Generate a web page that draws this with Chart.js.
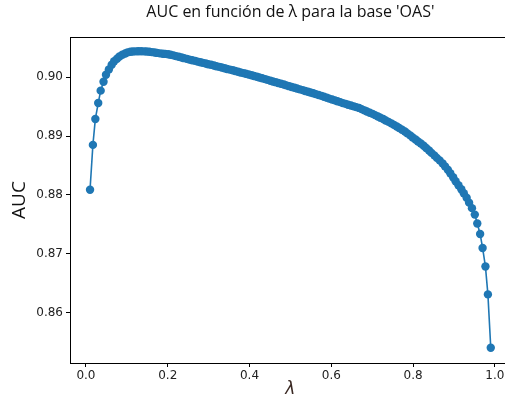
<!DOCTYPE html>
<html>
<head>
<meta charset="utf-8">
<script src="https://cdn.jsdelivr.net/npm/chart.js@4/dist/chart.umd.min.js"></script>
<style>
  html, body { margin: 0; padding: 0; background: #fff; overflow: hidden; }
  #aucChart { display: block; }
</style>
</head>
<body>
<canvas id="aucChart" width="515" height="398"></canvas>
<script>
// lambda grid (150 values between 0.01 and 0.99)
const lambdas = [
  0.010, 0.017, 0.023, 0.030, 0.036, 0.043, 0.049, 0.056, 0.063, 0.069,
  0.076, 0.082, 0.089, 0.096, 0.102, 0.109, 0.115, 0.122, 0.128, 0.135,
  0.142, 0.148, 0.155, 0.161, 0.168, 0.174, 0.181, 0.188, 0.194, 0.201,
  0.207, 0.214, 0.220, 0.227, 0.234, 0.240, 0.247, 0.253, 0.260, 0.267,
  0.273, 0.280, 0.286, 0.293, 0.299, 0.306, 0.313, 0.319, 0.326, 0.332,
  0.339, 0.345, 0.352, 0.359, 0.365, 0.372, 0.378, 0.385, 0.391, 0.398,
  0.405, 0.411, 0.418, 0.424, 0.431, 0.438, 0.444, 0.451, 0.457, 0.464,
  0.470, 0.477, 0.484, 0.490, 0.497, 0.503, 0.510, 0.516, 0.523, 0.530,
  0.536, 0.543, 0.549, 0.556, 0.562, 0.569, 0.576, 0.582, 0.589, 0.595,
  0.602, 0.609, 0.615, 0.622, 0.628, 0.635, 0.641, 0.648, 0.655, 0.661,
  0.668, 0.674, 0.681, 0.687, 0.694, 0.701, 0.707, 0.714, 0.720, 0.727,
  0.733, 0.740, 0.747, 0.753, 0.760, 0.766, 0.773, 0.780, 0.786, 0.793,
  0.799, 0.806, 0.812, 0.819, 0.826, 0.832, 0.839, 0.845, 0.852, 0.858,
  0.865, 0.872, 0.878, 0.885, 0.891, 0.898, 0.904, 0.911, 0.918, 0.924,
  0.931, 0.937, 0.944, 0.951, 0.957, 0.964, 0.970, 0.977, 0.983, 0.990
];

// AUC, one per lambda
const aucValues = [
  0.8809, 0.8885, 0.8929, 0.8956, 0.8977, 0.8992, 0.9004, 0.9013, 0.9021, 0.9027,
  0.9031, 0.9035, 0.9038, 0.9040, 0.9042, 0.9043, 0.90434, 0.90437, 0.90439, 0.90439,
  0.90437, 0.90434, 0.90429, 0.90424, 0.90417, 0.90410, 0.90403, 0.90397, 0.90393, 0.90387,
  0.90378, 0.90368, 0.90356, 0.90344, 0.90332, 0.90321, 0.90309, 0.90297, 0.90285, 0.90275,
  0.90263, 0.90251, 0.90241, 0.90230, 0.90219, 0.90208, 0.90196, 0.90184, 0.90174, 0.90162,
  0.90150, 0.90138, 0.90127, 0.90115, 0.90103, 0.90091, 0.90079, 0.90068, 0.90056, 0.90044,
  0.90030, 0.90019, 0.90005, 0.89993, 0.89980, 0.89966, 0.89953, 0.89939, 0.89926, 0.89914,
  0.89900, 0.89887, 0.89873, 0.89860, 0.89846, 0.89833, 0.89819, 0.89806, 0.89792, 0.89779,
  0.89765, 0.89752, 0.89738, 0.89725, 0.89711, 0.89696, 0.89681, 0.89666, 0.89651, 0.89635,
  0.89620, 0.89605, 0.89590, 0.89575, 0.89559, 0.89546, 0.89532, 0.89519, 0.89504, 0.89490,
  0.89477, 0.89457, 0.89436, 0.89416, 0.89396, 0.89376, 0.89355, 0.89333, 0.89311, 0.89288,
  0.89264, 0.89240, 0.89215, 0.89190, 0.89163, 0.89136, 0.89107, 0.89077, 0.89045, 0.89011,
  0.88976, 0.88942, 0.88908, 0.88874, 0.88835, 0.88797, 0.88756, 0.88714, 0.88672, 0.88630,
  0.88587, 0.88537, 0.88486, 0.88427, 0.88368, 0.88300, 0.88233, 0.88165, 0.88098, 0.88030,
  0.87954, 0.87870, 0.87777, 0.87667, 0.87516, 0.87338, 0.87102, 0.86786, 0.86314, 0.85409
];

const xTicks = [0.0, 0.2, 0.4, 0.6, 0.8, 1.0];
const yTicks = [0.86, 0.87, 0.88, 0.89, 0.90];

const BLUE = '#1f77b4';
const TICK_FONT = { family: "'DejaVu Sans', sans-serif", size: 12 };

// draws the full axes frame (top/right spines)
const frame = {
    id: 'frame',
    afterDatasetsDraw(chart) {
        const { ctx, chartArea: a } = chart;
        ctx.save();
        ctx.strokeStyle = '#000';
        ctx.lineWidth = 1;
        ctx.strokeRect(Math.round(a.left) + 0.5, Math.round(a.top) + 0.5,
            Math.round(a.right - a.left), Math.round(a.bottom - a.top));
        ctx.restore();
    }
};

new Chart(document.getElementById('aucChart'), {
    type: 'line',
    data: {
        datasets: [{
            data: lambdas.map((l, i) => ({ x: l, y: aucValues[i] })),
            borderColor: BLUE,
            borderWidth: 1.6,
            backgroundColor: BLUE,
            pointBackgroundColor: BLUE,
            pointBorderWidth: 0,
            pointRadius: 4.2,
            tension: 0,
            fill: false
        }]
    },
    options: {
        responsive: false,
        animation: false,
        layout: { padding: 0 },
        plugins: {
            legend: { display: false },
            tooltip: { enabled: false },
            title: {
                display: true,
                fullSize: false,
                text: "AUC en función de λ para la base 'OAS'",
                color: '#111',
                font: { family: "'Open Sans', sans-serif", size: 16, weight: 'normal', lineHeight: 1.2 },
                padding: { top: 3, bottom: 14.8 }
            }
        },
        scales: {
            x: {
                type: 'linear',
                min: -0.039,
                max: 1.039,
                afterBuildTicks: axis => { axis.ticks = xTicks.map(v => ({ value: v })); },
                afterFit: axis => {
                    axis.height = 35;
                    axis.paddingLeft = 0;
                    axis.paddingRight = 0;
                },
                grid: { display: true, drawOnChartArea: false, tickLength: 4, color: '#000' },
                border: { display: true, color: '#000' },
                ticks: {
                    color: '#222',
                    font: TICK_FONT,
                    padding: 2,
                    maxRotation: 0,
                    callback: v => v.toFixed(1)
                },
                title: {
                    display: true,
                    text: 'λ',
                    color: '#3b2a24',
                    font: { family: "'DejaVu Sans', sans-serif", size: 17, style: 'italic', lineHeight: 1 },
                    padding: { top: 0, bottom: 0 }
                }
            },
            y: {
                type: 'linear',
                min: 0.8515,
                max: 0.9068,
                afterBuildTicks: axis => { axis.ticks = yTicks.map(v => ({ value: v })); },
                afterFit: axis => {
                    axis.width = 70;
                    axis.paddingTop = 0;
                    axis.paddingBottom = 0;
                },
                grid: { display: true, drawOnChartArea: false, tickLength: 4, color: '#000' },
                border: { display: true, color: '#000' },
                ticks: {
                    color: '#222',
                    font: TICK_FONT,
                    padding: 3,
                    callback: v => v.toFixed(2)
                },
                title: {
                    display: true,
                    text: 'AUC',
                    color: '#111',
                    font: { family: "'Open Sans', sans-serif", size: 19, lineHeight: 1 },
                    padding: { top: 10, bottom: 0 }
                }
            }
        }
    },
    plugins: [frame]
});
</script>
</body>
</html>
